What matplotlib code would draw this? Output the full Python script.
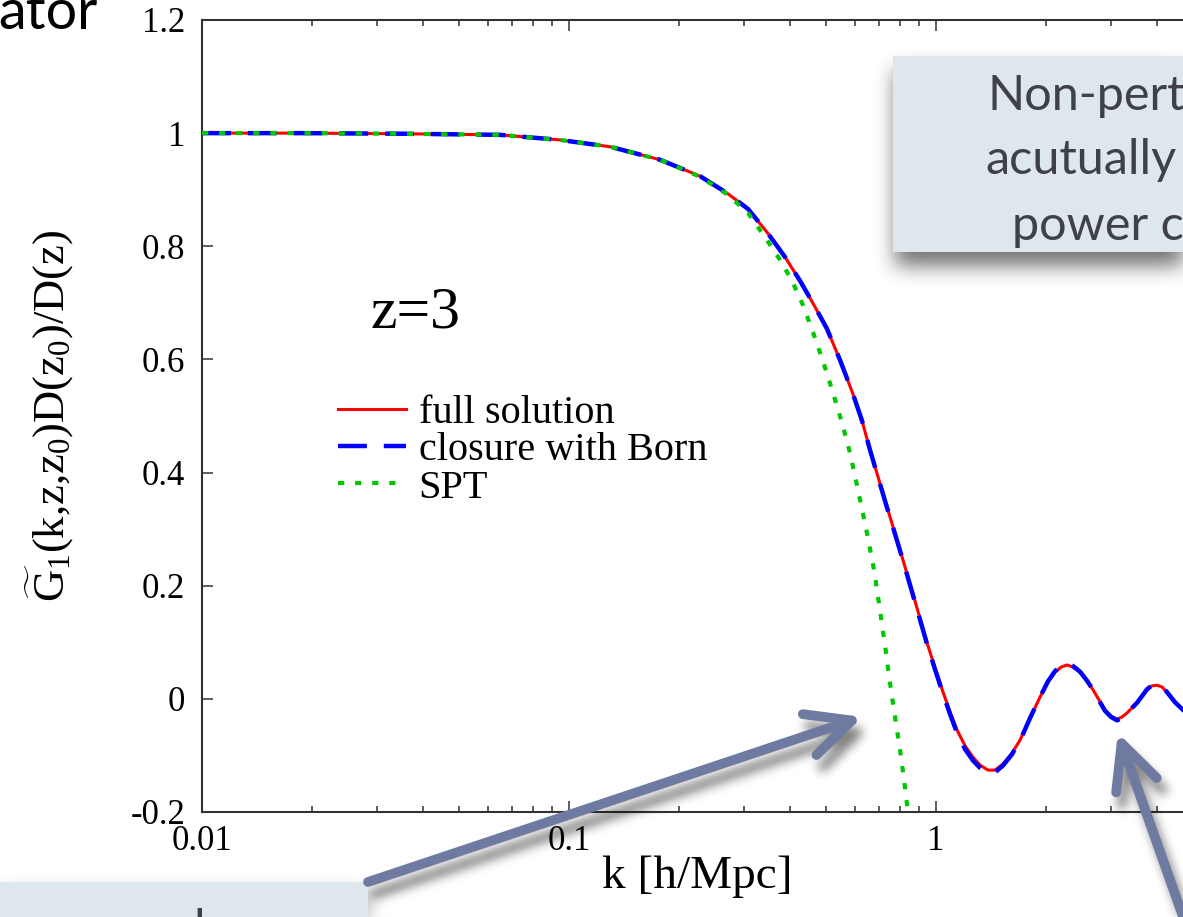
import numpy as np
import matplotlib
matplotlib.use("Agg")
import matplotlib.pyplot as plt
from matplotlib.patches import Rectangle, FancyArrowPatch
from matplotlib.transforms import IdentityTransform
from matplotlib.ticker import FixedLocator, LogLocator, NullFormatter

W, H, DPI = 1183, 917, 100

# values
k_full = [0.01, 0.0185, 0.0346, 0.0649, 0.0945, 0.1293, 0.177, 0.2275, 0.2695,
          0.3074, 0.3463, 0.3878, 0.4261, 0.4652, 0.5047, 0.5475, 0.5939, 0.6284,
          0.6609, 0.7261, 0.798, 0.8658, 0.9452, 0.9938, 1.045, 1.092, 1.141,
          1.2, 1.261, 1.318, 1.386, 1.448, 1.522, 1.611, 1.694, 1.804, 1.92,
          2.019, 2.11, 2.191, 2.275, 2.362, 2.469, 2.58, 2.678, 2.781, 2.887,
          2.998, 3.113, 3.212, 3.314, 3.421, 3.53, 3.643, 3.758, 3.878, 4.001,
          4.129, 4.26, 4.479, 4.77]
g_full = [1.0, 1.0, 0.999, 0.997, 0.988, 0.976, 0.953, 0.924, 0.894,
          0.866, 0.825, 0.781, 0.739, 0.696, 0.654, 0.599, 0.539, 0.492,
          0.440, 0.351, 0.263, 0.185, 0.099, 0.055, 0.012, -0.023, -0.055,
          -0.083, -0.103, -0.117, -0.126, -0.126, -0.115, -0.096, -0.073, -0.034, 0.003,
          0.030, 0.047, 0.056, 0.060, 0.056, 0.047, 0.032, 0.016, -0.002, -0.020,
          -0.030, -0.036, -0.032, -0.025, -0.016, -0.007, 0.005, 0.016, 0.023, 0.024,
          0.021, 0.012, -0.006, -0.023]
k_born = k_full
g_born = [1.0, 1.0, 0.999, 0.997, 0.988, 0.976, 0.953, 0.924, 0.894,
          0.866, 0.825, 0.781, 0.739, 0.696, 0.654, 0.599, 0.539, 0.492,
          0.440, 0.350, 0.262, 0.183, 0.097, 0.052, 0.009, -0.027, -0.060,
          -0.089, -0.109, -0.122, -0.131, -0.130, -0.118, -0.098, -0.074, -0.034, 0.003,
          0.031, 0.049, 0.058, 0.062, 0.058, 0.048, 0.032, 0.016, -0.003, -0.021,
          -0.032, -0.038, -0.034, -0.026, -0.016, -0.007, 0.005, 0.017, 0.024, 0.025,
          0.022, 0.012, -0.006, -0.023]
k_spt = [0.01, 0.0185, 0.0346, 0.0649, 0.0945, 0.1293, 0.177, 0.2275, 0.2695,
         0.3074, 0.3463, 0.3758, 0.4052, 0.4341, 0.4622, 0.4921, 0.524, 0.5545,
         0.5829, 0.6131, 0.6486, 0.6779, 0.7035, 0.7261, 0.7494, 0.7733, 0.798,
         0.8181, 0.8388, 0.8605]
g_spt = [1.0, 1.0, 0.999, 0.997, 0.988, 0.976, 0.953, 0.923, 0.892,
         0.859, 0.811, 0.776, 0.739, 0.696, 0.648, 0.597, 0.541, 0.488,
         0.435, 0.369, 0.293, 0.228, 0.157, 0.095, 0.028, -0.032, -0.090,
         -0.143, -0.200, -0.258]

xticks = [0.01, 0.1, 1]
xtick_labels = ["0.01", "0.1", "1"]
yticks = [-0.2, 0, 0.2, 0.4, 0.6, 0.8, 1, 1.2]
ytick_labels = ["-0.2", "0", "0.2", "0.4", "0.6", "0.8", "1", "1.2"]

# arrow targets (data coords)
arrow1_tip = (0.63, -0.032)
arrow2_tip = (3.13, -0.06)

SERIF = "Liberation Serif"
SANS = "Lato"
ARROW = "#6f7aa0"
BOX = "#dde7ed"
BOXTEXT = "#3f404b"
SPINE = "#333333"

plt.rcParams["mathtext.fontset"] = "custom"
plt.rcParams["mathtext.rm"] = SERIF
plt.rcParams["mathtext.it"] = SERIF + ":italic"


def fpos(x, y):
    """pixel position (y measured from top) -> figure fraction"""
    return x / W, 1 - y / H


def blur(a, sigma):
    r = int(3 * sigma)
    kern = np.exp(-0.5 * (np.arange(-r, r + 1) / sigma) ** 2)
    kern /= kern.sum()
    a = np.apply_along_axis(lambda m: np.convolve(m, kern, mode="same"), 0, a)
    a = np.apply_along_axis(lambda m: np.convolve(m, kern, mode="same"), 1, a)
    return a


def shadow_layer(make_shapes, sigma, alpha):
    sf = plt.figure(figsize=(W / DPI, H / DPI), dpi=DPI)
    for s in make_shapes():
        sf.add_artist(s)
    sf.canvas.draw()
    m = 1 - np.asarray(sf.canvas.buffer_rgba())[..., 0] / 255.0
    plt.close(sf)
    m = blur(m, sigma)
    rgba = np.zeros(m.shape + (4,))
    rgba[..., 3] = np.clip(m * alpha, 0, 1)
    return rgba


fig = plt.figure(figsize=(W / DPI, H / DPI), dpi=DPI)
ax = fig.add_axes([202 / W, 1 - 812 / H, 1101 / W, 792 / H])

ax.plot(k_full, g_full, color="#ff0000", lw=2.2, label="full solution", zorder=2)
ax.plot(k_born, g_born, color="#0000ff", lw=3.2, dashes=(6.5, 3.8),
        label="closure with Born", zorder=3)
ax.plot(k_spt, g_spt, color="#00c800", lw=3.0, dashes=(1.5, 2.6),
        label="SPT", zorder=4)

ax.set_xscale("log")
ax.set_xlim(0.01, 10)
ax.set_ylim(-0.2, 1.2)
ax.xaxis.set_major_locator(FixedLocator(xticks))
ax.set_xticklabels(xtick_labels)
ax.xaxis.set_minor_locator(LogLocator(base=10, subs=range(2, 10), numticks=20))
ax.xaxis.set_minor_formatter(NullFormatter())
ax.set_yticks(yticks)
ax.set_yticklabels(ytick_labels)

for sp in ax.spines.values():
    sp.set_color(SPINE)
    sp.set_linewidth(1.5)
ax.tick_params(which="both", direction="in", top=True, right=False,
               color=SPINE, width=1.1)
ax.tick_params(which="major", length=8)
ax.tick_params(which="minor", length=4.5)
ax.tick_params(axis="x", pad=9)
ax.tick_params(axis="y", pad=12)
for lab in ax.get_xticklabels() + ax.get_yticklabels():
    lab.set_fontfamily(SERIF)
    lab.set_fontsize(25)

ax.set_xlabel("k [h/Mpc]", fontfamily=SERIF, fontsize=34)
ax.xaxis.set_label_coords((697 - 202) / 1101, (812 - 855) / 792)
ax.set_ylabel(r"$\widetilde{\mathrm{G}}_1$(k,z,z$_0$)D(z$_0$)/D(z)",
              fontfamily=SERIF, fontsize=32)
ax.yaxis.set_label_coords((76 - 202) / 1101, 0.5)

ax.text((370 - 202) / 1101, (812 - 313) / 792, "z=3", transform=ax.transAxes,
        fontfamily=SERIF, fontsize=43, ha="left", va="center")

ax.legend(loc="upper left", bbox_to_anchor=((338 - 202) / 1101, (812 - 395) / 792),
          frameon=False, borderpad=0, borderaxespad=0, handlelength=1.7,
          handletextpad=0.3, labelspacing=0.0,
          prop={"family": SERIF, "size": 29})

# slide decorations
fig.text(*fpos(-2, 29), "ator", fontfamily=SANS, fontsize=40, color="black",
         ha="left", va="baseline")

box1 = (893, 56, 1200, 252)   # left, top, right, bottom in pixels
box2 = (-10, 882, 368, 930)


def box_rect(b, **kw):
    x0, y0 = fpos(b[0], b[3])
    return Rectangle((x0, y0), (b[2] - b[0]) / W, (b[3] - b[1]) / H, **kw)


tip1 = ax.transData.transform(arrow1_tip)
tip2 = ax.transData.transform(arrow2_tip)
tail1 = (368, H - 882)
tail2 = (1186, H - 925)
ARROWSTYLE = "->,head_length=32,head_width=15.5"


def arrow_patch(a, b, dx=0, dy=0, **kw):
    return FancyArrowPatch((a[0] + dx, a[1] + dy), (b[0] + dx, b[1] + dy),
                           arrowstyle=ARROWSTYLE, mutation_scale=1, lw=7,
                           shrinkA=0, shrinkB=0, capstyle="round",
                           joinstyle="round", transform=IdentityTransform(), **kw)


box_shadow = shadow_layer(lambda: [
    Rectangle((b[0] + 2, H - b[3] - 14), b[2] - b[0] - 4, b[3] - b[1],
              transform=IdentityTransform(), fc="k", ec="none")
    for b in (box1, box2)], sigma=10, alpha=0.55)
arrow_shadow = shadow_layer(lambda: [
    arrow_patch(tail1, tip1, 6, -12, color="k"),
    arrow_patch(tail2, tip2, 6, -12, color="k")], sigma=5, alpha=0.5)
fig.figimage(box_shadow, xo=0, yo=0, origin="upper", zorder=2.5)
fig.figimage(arrow_shadow, xo=0, yo=0, origin="upper", zorder=2.6)

fig.add_artist(box_rect(box1, transform=fig.transFigure, fc=BOX, ec="none", zorder=3))
fig.add_artist(box_rect(box2, transform=fig.transFigure, fc=BOX, ec="none", zorder=3))

for txt, x, y in [("Non-pert", 988, 110), ("acutually", 985, 174), ("power c", 1012, 240)]:
    fig.text(*fpos(x, y), txt, fontfamily=SANS, fontsize=35, color=BOXTEXT,
             ha="left", va="baseline", zorder=4)
fig.text(*fpos(193, 944), "l", fontfamily=SANS, fontsize=35, color=BOXTEXT,
         ha="left", va="baseline", zorder=4)

fig.add_artist(arrow_patch(tail1, tip1, color=ARROW, zorder=5))
fig.add_artist(arrow_patch(tail2, tip2, color=ARROW, zorder=5))

fig.savefig("out.png", dpi=DPI)
